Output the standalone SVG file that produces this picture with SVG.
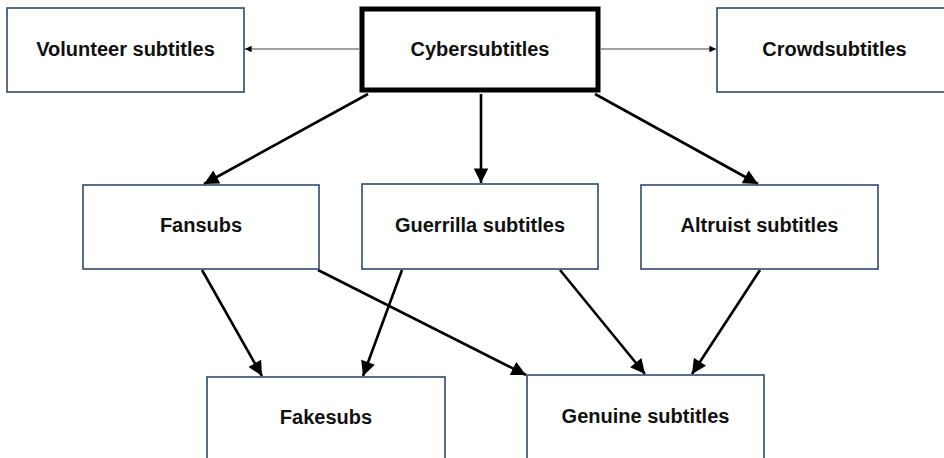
<svg xmlns="http://www.w3.org/2000/svg" width="944" height="458" viewBox="0 0 944 458">
<defs>
<style>
.box{fill:#fff;stroke:#2e4a6e;stroke-width:1.6}
.main{fill:#fff;stroke:#000;stroke-width:5}
.lbl{font-family:"Liberation Sans",Arial,sans-serif;font-weight:bold;font-size:20px;fill:#111;text-anchor:middle}
.thick{stroke:#000;stroke-width:2.6;fill:none;marker-end:url(#big)}
.thin{stroke:#444;stroke-width:1.1;fill:none;marker-end:url(#small)}
</style>
<marker id="big" viewBox="0 0 10 10" refX="10" refY="5" markerWidth="6.2" markerHeight="5.6" orient="auto" markerUnits="strokeWidth">
<path d="M0,0 L10,5 L0,10 z" fill="#000"/>
</marker>
<marker id="small" viewBox="0 0 10 10" refX="10" refY="5" markerWidth="6" markerHeight="6" orient="auto" markerUnits="strokeWidth">
<path d="M0,0 L10,5 L0,10 z" fill="#000"/>
</marker>
</defs>
<rect width="944" height="458" fill="#fff"/>
<g id="connectors">
<line class="thin" x1="359" y1="49" x2="245" y2="49"/>
<line class="thin" x1="601" y1="49" x2="716" y2="49"/>
<line class="thick" x1="368" y1="94" x2="204" y2="184"/>
<line class="thick" x1="481" y1="94" x2="481" y2="183"/>
<line class="thick" x1="595" y1="94" x2="758" y2="184"/>
<line class="thick" x1="202" y1="270" x2="262" y2="376"/>
<line class="thick" x1="402" y1="270" x2="363" y2="376"/>
<line class="thick" x1="318" y1="270" x2="526" y2="375"/>
<line class="thick" x1="560" y1="270" x2="645" y2="374"/>
<line class="thick" x1="760" y1="270" x2="692" y2="374"/>
</g>
<g id="volunteer"><rect class="box" x="7" y="8" width="237" height="84"/><text class="lbl" x="125.5" y="56">Volunteer subtitles</text></g>
<g id="cyber"><rect class="main" x="362" y="9" width="236" height="81"/><text class="lbl" x="480" y="55.5">Cybersubtitles</text></g>
<g id="crowd"><rect class="box" x="717" y="8" width="240" height="84"/><text class="lbl" x="834.5" y="56">Crowdsubtitles</text></g>
<g id="fansubs"><rect class="box" x="83" y="185" width="236" height="84"/><text class="lbl" x="201" y="232">Fansubs</text></g>
<g id="guerrilla"><rect class="box" x="362" y="184" width="236" height="85"/><text class="lbl" x="480" y="232">Guerrilla subtitles</text></g>
<g id="altruist"><rect class="box" x="641" y="185" width="237" height="84"/><text class="lbl" x="759.5" y="232">Altruist subtitles</text></g>
<g id="fakesubs"><rect class="box" x="207" y="377" width="238" height="100"/><text class="lbl" x="326" y="424">Fakesubs</text></g>
<g id="genuine"><rect class="box" x="527" y="375" width="237" height="100"/><text class="lbl" x="645.5" y="423">Genuine subtitles</text></g>
</svg>
